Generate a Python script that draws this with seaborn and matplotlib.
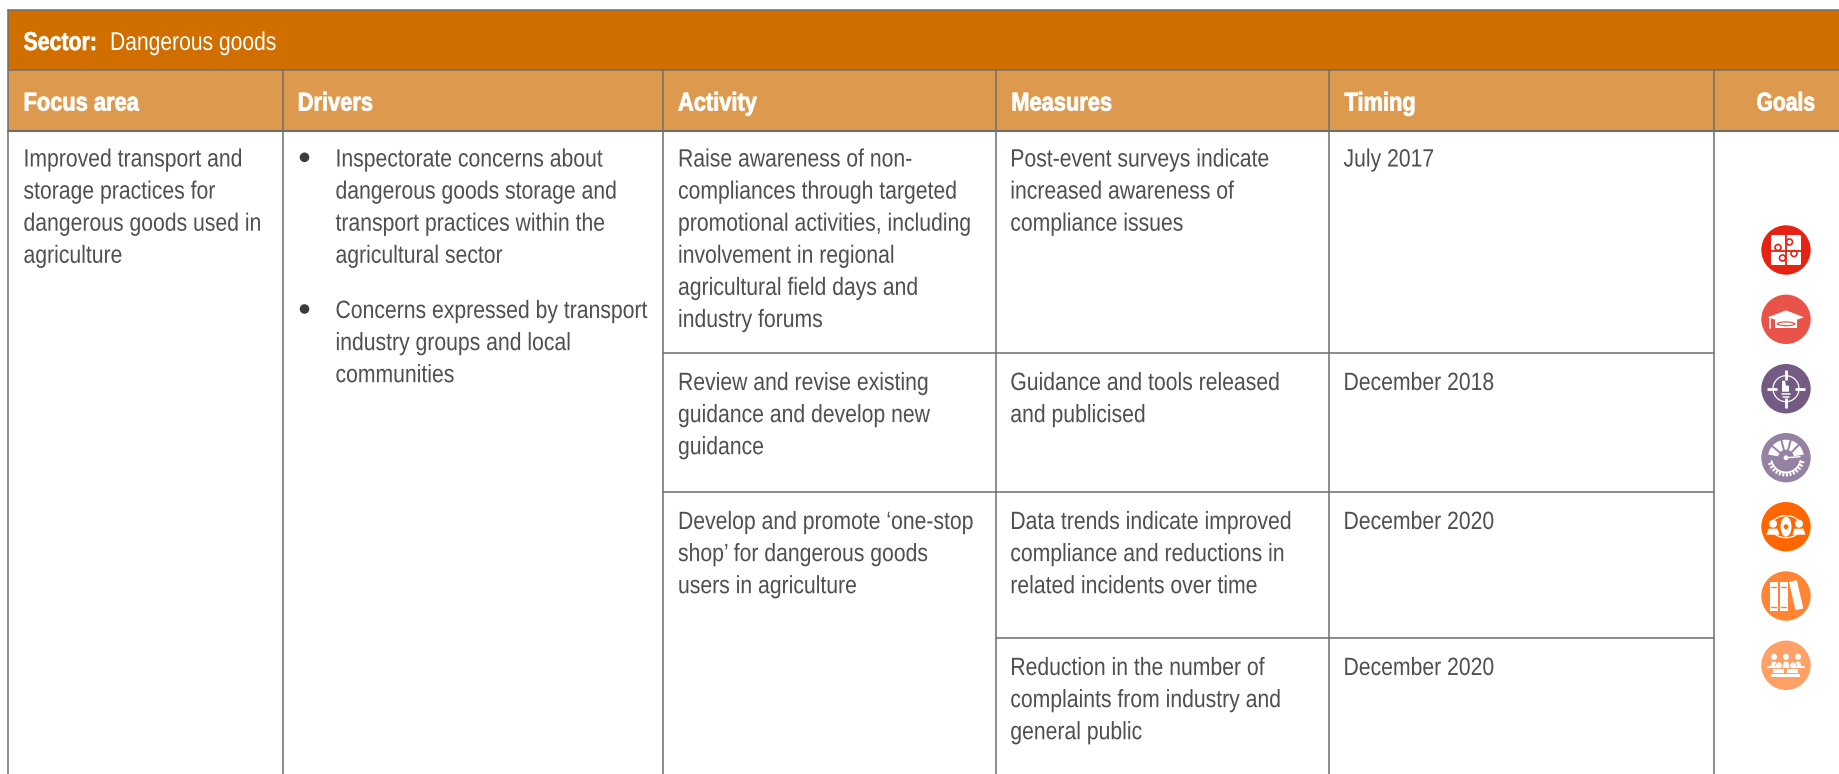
import matplotlib.pyplot as plt
import matplotlib.patches as mp
import matplotlib.patheffects as pe
from matplotlib.transforms import Affine2D
import numpy as np
import pandas as pd
import seaborn as sns

# table content
sector_label = "Sector:"
sector_name = "Dangerous goods"
headers = ["Focus area", "Drivers", "Activity", "Measures", "Timing", "Goals"]
focus = ["Improved transport and", "storage practices for", "dangerous goods used in", "agriculture"]
driver_1 = ["Inspectorate concerns about", "dangerous goods storage and", "transport practices within the", "agricultural sector"]
driver_2 = ["Concerns expressed by transport", "industry groups and local", "communities"]
activities = [
    ["Raise awareness of non-", "compliances through targeted", "promotional activities, including",
     "involvement in regional", "agricultural field days and", "industry forums"],
    ["Review and revise existing", "guidance and develop new", "guidance"],
    ["Develop and promote \u2018one-stop", "shop\u2019 for dangerous goods", "users in agriculture"],
]
measures = [
    ["Post-event surveys indicate", "increased awareness of", "compliance issues"],
    ["Guidance and tools released", "and publicised"],
    ["Data trends indicate improved", "compliance and reductions in", "related incidents over time"],
    ["Reduction in the number of", "complaints from industry and", "general public"],
]
timing = ["July 2017", "December 2018", "December 2020", "December 2020"]
goal_names = ["puzzle", "cap", "target", "gauge", "partners", "books", "people"]
goal_colors = ["#E42313", "#EA5349", "#735B83", "#9582A3", "#FF6600", "#FF8534", "#FFA066"]

# layout in pixels
W, H = 1840, 774
COLS = [8.5, 282.7, 663, 996.3, 1329.5, 1714.5]
ROWS = [353, 491.7, 637.7]
Y_TOP, Y_HEAD1, Y_HEAD2 = 9.5, 70, 131
LINE = 32.1
PAD = 15
BASE = 166.5
ROW_BASE = [166.5, 390, 529, 675]
GOAL_X = 1786
GOAL_Y = [250, 319.3, 388.7, 457.7, 526.7, 596, 665.3]
GOAL_R = 24.7

DARK = "#D06E00"
LIGHT = "#DD9A4F"
TEXT = "#4F4F4F"
EDGE = "#6E6E6E"

sns.set_theme(style="white")
plt.rcParams["font.family"] = ["Liberation Sans", "DejaVu Sans"]


class Narrow(pe.AbstractPathEffect):
    # squeeze glyphs sideways, the source uses a condensed face
    def __init__(self, sx, stroke=0.0):
        super().__init__()
        self.sx = sx
        self.stroke = stroke

    def draw_path(self, renderer, gc, tpath, affine, rgbFace=None):
        gc0 = renderer.new_gc()
        gc0.copy_properties(gc)
        gc0.set_linewidth(self.stroke)
        gc0.set_foreground(rgbFace)
        renderer.draw_path(gc0, tpath, Affine2D().scale(self.sx, 1) + affine, rgbFace)
        gc0.restore()


def txt(x, y, s, size=18, sx=0.847, color=TEXT, weight="normal", stroke=0.0):
    ax.text(x, y, s, color=color, fontsize=size, fontweight=weight, va="baseline", ha="left",
            path_effects=[Narrow(sx, stroke)])


fig = plt.figure(figsize=(W / 100, H / 100), dpi=100)
ax = fig.add_axes([0, 0, 1, 1])
ax.set_xlim(0, W)
ax.set_ylim(H, 0)
ax.axis("off")

# header bands
ax.add_patch(mp.Rectangle((COLS[0], Y_TOP), W - COLS[0], Y_HEAD1 - Y_TOP, fc=DARK, ec="none"))
ax.add_patch(mp.Rectangle((COLS[0], Y_HEAD1), W - COLS[0], Y_HEAD2 - Y_HEAD1, fc=LIGHT, ec="none"))

# grid lines
lw = 1.1
ax.plot([COLS[0], W], [Y_TOP, Y_TOP], color=EDGE, lw=lw)
ax.plot([COLS[0], W], [Y_HEAD1, Y_HEAD1], color=EDGE, lw=lw)
ax.plot([COLS[0], W], [Y_HEAD2, Y_HEAD2], color=EDGE, lw=1.5)
ax.plot([COLS[0], COLS[0]], [Y_TOP, H], color=EDGE, lw=lw)
for x in COLS[1:]:
    ax.plot([x, x], [Y_HEAD1, H], color=EDGE, lw=lw)
ax.plot([COLS[2], COLS[5]], [ROWS[0], ROWS[0]], color=EDGE, lw=lw)
ax.plot([COLS[2], COLS[5]], [ROWS[1], ROWS[1]], color=EDGE, lw=lw)
ax.plot([COLS[3], COLS[5]], [ROWS[2], ROWS[2]], color=EDGE, lw=lw)

# header text
txt(23.5, 50, sector_label, 18.5, 0.83, "white", "bold", 0.5)
txt(110, 50, sector_name, 18.5, 0.82, "white")
for i, h in enumerate(headers[:5]):
    txt(COLS[i] + PAD, 110.5, h, 18.5, 0.85, "white", "bold", 0.6)
txt(1756.5, 110.5, headers[5], 18.5, 0.82, "white", "bold", 0.6)


def block(x, y, lines):
    for k, s in enumerate(lines):
        txt(x, y + k * LINE, s)


block(COLS[0] + PAD, BASE, focus)
block(335.5, BASE, driver_1)
block(335.5, 318, driver_2)
for yy in [157.3, 309]:
    ax.add_patch(mp.Circle((304.5, yy), 4.8, fc="#3C3C3C", ec="none"))

for a, y in zip(activities, ROW_BASE):
    block(COLS[2] + PAD, y, a)
for m, y in zip(measures, ROW_BASE):
    block(COLS[3] + PAD - 1, y, m)
for t, y in zip(timing, ROW_BASE):
    block(COLS[4] + PAD - 1, y, [t])

# goal discs
goals = pd.DataFrame({"goal": goal_names, "x": GOAL_X, "y": GOAL_Y})
sns.scatterplot(data=goals, x="x", y="y", hue="goal", palette=goal_colors, s=(2 * GOAL_R * 0.72) ** 2,
                linewidth=0, legend=False, ax=ax)
ax.set_xlim(0, W)
ax.set_ylim(H, 0)
ax.axis("off")


# icon glyphs, drawn white on the discs (y axis points down, so wedges run mirrored)
def puzzle(cx, cy, col):
    ax.add_patch(mp.FancyBboxPatch((cx - 15, cy - 15), 30, 30, boxstyle="round,pad=0,rounding_size=1.5", fc="white", ec="none"))
    ax.plot([cx - 15, cx + 15], [cy + 0.5, cy + 0.5], color=col, lw=1.3)
    ax.plot([cx, cx], [cy - 15, cy + 15], color=col, lw=1.3)
    for dx, dy in [(-8, -2.5), (8, 3.5), (3.5, -8), (-3.5, 8)]:
        ax.add_patch(mp.Circle((cx + dx, cy + dy), 3, fc="white", ec=col, lw=1.2))


def cap(cx, cy, col):
    ax.add_patch(mp.Polygon([(cx - 18, cy - 2), (cx, cy - 9), (cx + 18, cy - 2), (cx, cy + 4)], fc="white", ec="none"))
    ax.add_patch(mp.Rectangle((cx - 11, cy + 1), 22, 8, fc="white", ec="none"))
    ax.add_patch(mp.Ellipse((cx, cy + 4.5), 19, 5, fc=col, ec="none"))
    ax.add_patch(mp.Ellipse((cx, cy + 4.5), 15, 2.5, fc="white", ec="none"))
    ax.plot([cx - 16, cx - 16], [cy - 2, cy + 9], color="white", lw=1.2)


def target(cx, cy, col):
    ax.add_patch(mp.Circle((cx, cy), 13, fc="none", ec="white", lw=0.9))
    for dx, dy in [(1, 0), (-1, 0), (0, 1), (0, -1)]:
        ax.plot([cx + 9 * dx, cx + 19 * dx], [cy + 9 * dy, cy + 19 * dy], color="white", lw=2, solid_capstyle="butt")
    ax.add_patch(mp.Polygon([(cx - 4, cy - 8), (cx - 1, cy - 8), (cx, cy - 3), (cx + 3, cy - 3), (cx + 3, cy + 3), (cx - 4, cy + 3)],
                            fc="white", ec="none"))
    ax.plot([cx - 4, cx + 4], [cy + 5.5, cy + 5.5], color="white", lw=1.1)
    ax.plot([cx - 3, cx + 3], [cy + 8, cy + 8], color="white", lw=1.1)


def gauge(cx, cy, col):
    ax.add_patch(mp.Wedge((cx, cy), 18, 190, 350, width=10, fc="white", ec="none"))
    for a in [45, 75, 105, 140]:
        t = np.radians(a)
        ax.plot([cx + 6 * np.cos(t), cx + 19 * np.cos(t)], [cy - 6 * np.sin(t), cy - 19 * np.sin(t)], color=col, lw=1.4)
    ax.add_patch(mp.Wedge((cx, cy), 15.5, 10, 170, width=1.6, fc="white", ec="none"))
    for a in np.arange(15, 170, 12):
        t = np.radians(a)
        ax.plot([cx + 15 * np.cos(t), cx + 18 * np.cos(t)], [cy + 15 * np.sin(t), cy + 18 * np.sin(t)], color="white", lw=1.5)
    ax.add_patch(mp.Circle((cx, cy), 2.4, fc="white", ec="none"))
    ax.plot([cx, cx + 14], [cy, cy - 1], color="white", lw=1)


def person(cx, cy, r=3.6, w=8):
    ax.add_patch(mp.Circle((cx, cy - 5), r, fc="white", ec="none"))
    ax.add_patch(mp.Polygon([(cx - w / 2, cy), (cx + w / 2, cy), (cx + w / 2 + 2, cy + 6), (cx - w / 2 - 2, cy + 6)],
                            fc="white", ec="none"))


def partners(cx, cy, col):
    person(cx - 13, cy + 2, 4, 9)
    person(cx + 13, cy + 2, 4, 9)
    ax.add_patch(mp.Ellipse((cx, cy), 11, 20, fc="white", ec="none"))
    ax.add_patch(mp.Circle((cx, cy), 2.4, fc=col, ec="none"))
    ax.add_patch(mp.Arc((cx, cy), 30, 22, theta1=205, theta2=335, ec="white", lw=0.9))
    ax.add_patch(mp.Arc((cx, cy), 30, 22, theta1=25, theta2=155, ec="white", lw=0.9))


def books(cx, cy, col):
    for x0, ang in [(cx - 16, 0), (cx - 6, 0), (cx + 3, -13)]:
        r = mp.Rectangle((x0, cy - 14), 8, 29, angle=ang, rotation_point=(x0, cy - 14), fc="white", ec="none")
        ax.add_patch(r)
    for x0 in [cx - 12, cx - 2]:
        ax.plot([x0 - 2.5, x0 + 2.5], [cy - 9, cy - 9], color=col, lw=1)
        ax.plot([x0 - 2.5, x0 + 2.5], [cy + 11, cy + 11], color=col, lw=1)


def people(cx, cy, col):
    for dx in [-12, 0, 12]:
        person(cx + dx, cy - 3.5, 3, 4)
    ax.plot([cx - 18, cx - 7], [cy + 1.5, cy + 1.5], color="white", lw=1.3)
    ax.plot([cx + 7, cx + 18], [cy + 1.5, cy + 1.5], color="white", lw=1.3)
    for dx in [-7, 7]:
        ax.add_patch(mp.Circle((cx + dx, cy), 3.4, fc="white", ec=col, lw=0.6))
        ax.add_patch(mp.Rectangle((cx + dx - 5.5, cy + 3.5), 11, 4.5, fc="white", ec="none"))
    ax.add_patch(mp.Rectangle((cx - 14.5, cy + 9), 29, 2.6, fc="white", ec="none"))


for fn, yy, c in zip([puzzle, cap, target, gauge, partners, books, people], GOAL_Y, goal_colors):
    fn(GOAL_X, yy, c)

plt.savefig("out.png", dpi=100)
plt.close()
